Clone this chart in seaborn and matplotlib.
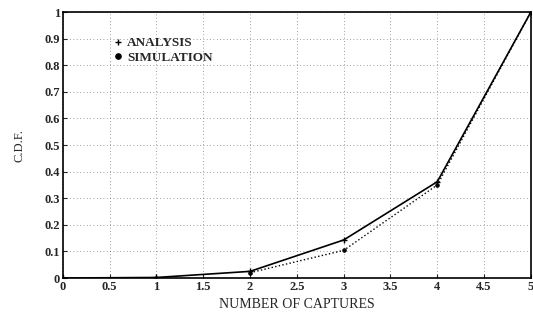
import matplotlib
matplotlib.use("Agg")
import matplotlib.pyplot as plt
import seaborn as sns
import pandas as pd

captures_analysis = [0, 1, 2, 3, 4, 5]
cdf_analysis = [0.0, 0.002, 0.025, 0.143, 0.362, 1.0]
captures_sim = [2, 3, 4, 5]
cdf_sim = [0.02, 0.104, 0.35, 1.0]
xticks = [0, 0.5, 1, 1.5, 2, 2.5, 3, 3.5, 4, 4.5, 5]
yticks = [0, 0.1, 0.2, 0.3, 0.4, 0.5, 0.6, 0.7, 0.8, 0.9, 1]

sns.set_theme(style="ticks")
plt.rcParams['font.family'] = ['Liberation Serif', 'DejaVu Serif']

df_a = pd.DataFrame({"x": captures_analysis, "y": cdf_analysis})
df_s = pd.DataFrame({"x": captures_sim, "y": cdf_sim})

fig = plt.figure(figsize=(5.33, 3.17), dpi=100)
ax = fig.add_axes([0.118, 0.123, 0.878, 0.839])

sns.lineplot(data=df_a, x="x", y="y", ax=ax, color="black", linewidth=1.2,
             marker="+", markersize=4, markeredgewidth=1, markeredgecolor="black",
             label="ANALYSIS")
sns.lineplot(data=df_s, x="x", y="y", ax=ax, color="black", linewidth=1.0,
             linestyle=":", marker="o", markersize=2.5, markeredgecolor="black",
             label="SIMULATION")

ax.set_xlim(0, 5)
ax.set_ylim(0, 1)
ax.set_xticks(xticks)
ax.set_xticklabels(["0", "0.5", "1", "1.5", "2", "2.5", "3", "3.5", "4", "4.5", "5"])
ax.set_yticks(yticks)
ax.set_yticklabels(["0", "0.1", "0.2", "0.3", "0.4", "0.5", "0.6", "0.7", "0.8", "0.9", "1"])
ax.tick_params(labelsize=9, length=3, direction="in", width=0.8, pad=2)
for lbl in ax.get_xticklabels() + ax.get_yticklabels():
    lbl.set_fontweight("bold")
ax.grid(True, linestyle=(0, (1, 3)), color="black", linewidth=0.6, alpha=0.5)
for sp in ax.spines.values():
    sp.set_linewidth(1.2)
    sp.set_color("black")

ax.set_xlabel("NUMBER OF CAPTURES", fontsize=10, labelpad=4)
ax.set_ylabel("C.D.F.", fontsize=9, labelpad=14)

leg = ax.legend(loc="upper left", bbox_to_anchor=(0.095, 0.93), frameon=False,
                fontsize=9.5, handlelength=0.6, handletextpad=0.4, labelspacing=0.15,
                borderpad=0)
for h in leg.legend_handles:
    h.set_linestyle("none")
    h.set_markersize(4)
    h.set_markeredgecolor("black")
for t in leg.get_texts():
    t.set_fontweight("bold")

fig.savefig("out.png", dpi=100)
